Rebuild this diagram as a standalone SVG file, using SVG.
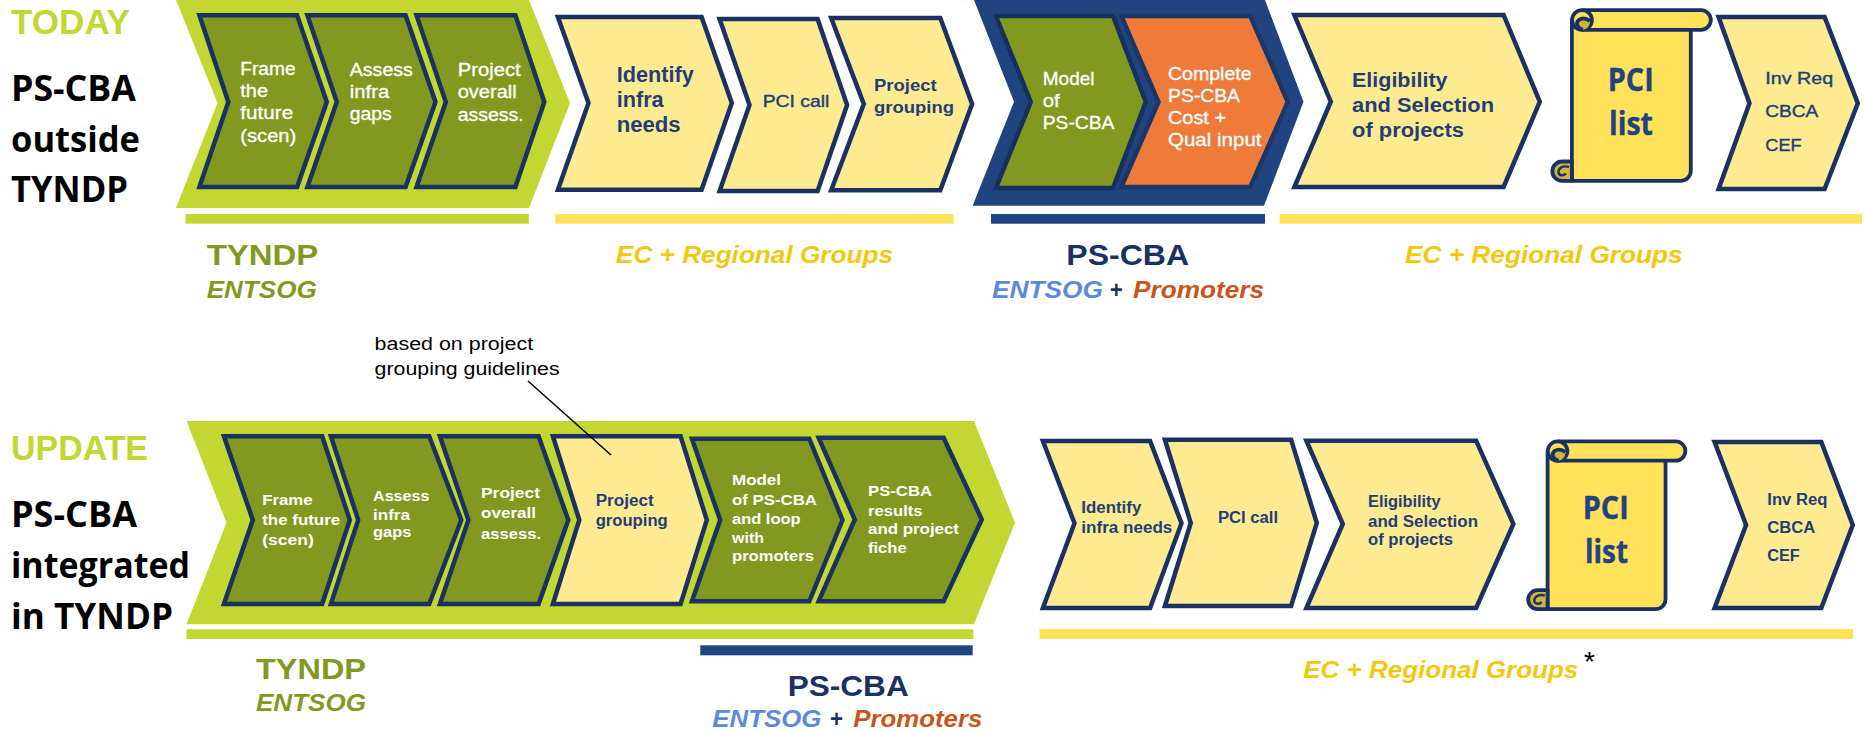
<svg xmlns="http://www.w3.org/2000/svg" xmlns:xlink="http://www.w3.org/1999/xlink" width="1864" height="732" viewBox="0 0 1864 732">
<style>
text{font-family:"Liberation Sans",Arial,sans-serif}
.g{fill:#83981f;stroke:#1a3263;stroke-width:4.5;stroke-miterlimit:10}
.y{fill:#feea91;stroke:#1a3263;stroke-width:4.5;stroke-miterlimit:10}
.o{fill:#ee7b3a;stroke:#1b3768;stroke-width:4.5;stroke-miterlimit:10}
.w{fill:#fff;font-size:17.5px;stroke:#fff;stroke-width:.3}
.ws{fill:#fff;font-size:15.5px;font-weight:bold}
.b{fill:#1f3f78;font-weight:bold;font-size:16px}
.h{font-family:"Open Sans","Noto Sans",sans-serif;font-weight:bold;font-size:36px;fill:#000}
.st{fill:#c2d732;font-weight:bold;font-size:35px}
.lime{fill:#c2d732}.gold{fill:#ffe15a}.navy{fill:#1f4480}
.ty{fill:#83981f;font-weight:bold;font-size:30px}
.en{font-weight:bold;font-style:italic;font-size:23px}
.ec{fill:#f2c80f;font-weight:bold;font-style:italic;font-size:24px}
.ps{fill:#1a3263;font-weight:bold;font-size:30px}
.pl{font-family:"Open Sans","Noto Sans",sans-serif;font-weight:bold;font-size:33px;fill:#1f4480;stroke:#1f4480;stroke-width:.4}
</style>
<defs>
<g id="scroll" stroke="#1a3263" stroke-width="3.8" stroke-linejoin="round" fill="none">
<path d="M1.9 12V172.8H110.8a10 10 0 0 0 10-10V21z" fill="#ffe15a"/>
<path d="M13 2.2H131a9.8 9.8 0 0 1 0 19.6H13z" fill="#ffe15a"/>
<circle cx="12" cy="12" r="9.9" fill="#ffe15a"/>
<path d="M20 13C15 9 8 10 7 15C7 19 10 21 13 21.8C17 21 20 18 20 13z" fill="#d1b43e" stroke="none"/>
<path d="M20 13C15 9 8 10 7 15C7 19 10 21 13 21.8"/>
<path d="M1.9 153.5H-8A9.6 9.6 0 0 0-8 172.8H1.9z" fill="#d1b43e"/>
<path d="M-1 159C-7 157-12 160-11.500 165C-10.500 168-6 168-4 165.500" stroke-width="2.400"/>
</g>
</defs>

<g id="labels-left">
<text x="11" y="34" class="st" textLength="119" lengthAdjust="spacingAndGlyphs">TODAY</text>
<text x="11" y="101" class="h" textLength="125" lengthAdjust="spacingAndGlyphs">PS-CBA</text>
<text x="11" y="152" class="h" textLength="129" lengthAdjust="spacingAndGlyphs">outside</text>
<text x="11" y="202" class="h" textLength="117" lengthAdjust="spacingAndGlyphs">TYNDP</text>
<text x="11" y="460" class="st" textLength="137" lengthAdjust="spacingAndGlyphs">UPDATE</text>
<text x="11" y="527" class="h" textLength="126" lengthAdjust="spacingAndGlyphs">PS-CBA</text>
<text x="11" y="578" class="h" textLength="179" lengthAdjust="spacingAndGlyphs">integrated</text>
<text x="11" y="629" class="h" textLength="162" lengthAdjust="spacingAndGlyphs">in TYNDP</text>
</g>

<g id="today-band">
<polygon class="lime" points="176,0 529,0 570,103 529,208 176,208 217.500,103"/>
<rect class="lime" x="185.500" y="214" width="343.300" height="9.700"/>
</g>
<g id="t-frame"><polygon class="g" points="199.400,15.300 297.100,15.300 326.800,102 297.100,187 199.400,187 228.300,102"/>
<text class="w" x="240.300" y="75" textLength="55.300" lengthAdjust="spacingAndGlyphs">Frame</text>
<text class="w" x="240.300" y="97" textLength="27.700" lengthAdjust="spacingAndGlyphs">the</text>
<text class="w" x="240.300" y="119" textLength="53" lengthAdjust="spacingAndGlyphs">future</text>
<text class="w" x="240.300" y="142" textLength="56" lengthAdjust="spacingAndGlyphs">(scen)</text></g>
<g id="t-assess"><polygon class="g" points="307.400,15.300 405.600,15.300 435.500,102 405.600,187 307.400,187 336.800,102"/>
<text class="w" x="349.800" y="76" textLength="63" lengthAdjust="spacingAndGlyphs">Assess</text>
<text class="w" x="349.800" y="98.300" textLength="39.500" lengthAdjust="spacingAndGlyphs">infra</text>
<text class="w" x="349.800" y="119.500" textLength="42" lengthAdjust="spacingAndGlyphs">gaps</text></g>
<g id="t-project"><polygon class="g" points="416.500,15.300 515.400,15.300 544.300,102 515.400,187 416.500,187 445.800,102"/>
<text class="w" x="457.700" y="76" textLength="63" lengthAdjust="spacingAndGlyphs">Project</text>
<text class="w" x="457.700" y="98.300" textLength="59" lengthAdjust="spacingAndGlyphs">overall</text>
<text class="w" x="457.700" y="120.700" textLength="66" lengthAdjust="spacingAndGlyphs">assess.</text></g>
<g id="t-tyndp-label">
<text class="ty" x="206.700" y="265" textLength="111.600" lengthAdjust="spacingAndGlyphs">TYNDP</text>
<text class="en" style="fill:#83981f" x="206.700" y="298" textLength="110" lengthAdjust="spacingAndGlyphs">ENTSOG</text></g>

<g id="t-identify"><polygon class="y" points="557.900,17 701.600,17 731.800,103 701.600,189.700 557.900,189.700 588.500,103"/>
<text class="b" style="font-size:22px" x="616.700" y="82" textLength="77" lengthAdjust="spacingAndGlyphs">Identify</text>
<text class="b" style="font-size:22px" x="616.700" y="107" textLength="47" lengthAdjust="spacingAndGlyphs">infra</text>
<text class="b" style="font-size:22px" x="616.700" y="132" textLength="64" lengthAdjust="spacingAndGlyphs">needs</text></g>
<g id="t-pci"><polygon class="y" points="719.600,19 817.600,19 847.100,105 817.600,191 719.600,191 749.500,105"/>
<text class="b" style="font-size:17px;font-weight:normal;stroke:#1f3f78;stroke-width:.4" x="762.700" y="107" textLength="66.700" lengthAdjust="spacingAndGlyphs">PCI call</text></g>
<g id="t-grouping"><polygon class="y" points="831.200,18 940.300,18 972.100,104 940.300,190.300 831.200,190.300 863.800,104"/>
<text class="b" style="font-size:17px" x="874" y="90.700" textLength="62.700" lengthAdjust="spacingAndGlyphs">Project</text>
<text class="b" style="font-size:17px" x="874" y="112.500" textLength="80" lengthAdjust="spacingAndGlyphs">grouping</text></g>
<g id="t-ec-1"><rect class="gold" x="555.300" y="214" width="398.400" height="9.700"/>
<text class="ec" x="616" y="263.300" textLength="277" lengthAdjust="spacingAndGlyphs">EC + Regional Groups</text></g>

<g id="t-pscba-band">
<polygon class="navy" points="974,0 1265,0 1303.500,101.700 1264,205.700 972.600,205.700 1014,101.700"/>
<rect class="navy" x="991" y="214" width="274" height="9.700"/>
</g>
<g id="t-model"><polygon class="g" style="stroke:#16305f" points="995.900,16 1113,16 1145.800,102 1113,188 995.900,188 1030.800,102"/>
<text class="w" x="1042.800" y="85" textLength="51.700" lengthAdjust="spacingAndGlyphs">Model</text>
<text class="w" x="1042.800" y="107.300" textLength="17" lengthAdjust="spacingAndGlyphs">of</text>
<text class="w" x="1042.800" y="129.300" textLength="71.600" lengthAdjust="spacingAndGlyphs">PS-CBA</text></g>
<g id="t-complete"><polygon class="o" points="1121.300,16 1250.300,16 1287.800,102 1250.300,187 1121.300,187 1158.500,102"/>
<text class="w" x="1168" y="80" textLength="83.600" lengthAdjust="spacingAndGlyphs">Complete</text>
<text class="w" x="1168" y="102.300" textLength="72" lengthAdjust="spacingAndGlyphs">PS-CBA</text>
<text class="w" x="1168" y="124.300" textLength="58" lengthAdjust="spacingAndGlyphs">Cost +</text>
<text class="w" x="1168" y="146" textLength="93.500" lengthAdjust="spacingAndGlyphs">Qual input</text></g>
<g id="t-pscba-label">
<text class="ps" x="1066.300" y="265" textLength="122.800" lengthAdjust="spacingAndGlyphs">PS-CBA</text>
<text class="en" style="fill:#5a8ad8" x="992" y="297.700" textLength="110.900" lengthAdjust="spacingAndGlyphs">ENTSOG</text>
<text class="en" style="fill:#1a3263;font-style:normal" x="1109.800" y="297.700" textLength="13" lengthAdjust="spacingAndGlyphs">+</text>
<text class="en" style="fill:#c8551a" x="1133" y="297.700" textLength="131" lengthAdjust="spacingAndGlyphs">Promoters</text></g>

<g id="t-eligibility"><polygon class="y" points="1294.400,15 1503.600,15 1539.800,101.700 1503.600,187 1294.400,187 1330.800,101.700"/>
<text class="b" style="font-size:20px" x="1352" y="87" textLength="95.500" lengthAdjust="spacingAndGlyphs">Eligibility</text>
<text class="b" style="font-size:20px" x="1352" y="112" textLength="142" lengthAdjust="spacingAndGlyphs">and Selection</text>
<text class="b" style="font-size:20px" x="1352" y="137" textLength="112" lengthAdjust="spacingAndGlyphs">of projects</text></g>
<g id="t-pci-list"><use xlink:href="#scroll" href="#scroll" transform="translate(1570 8)"/>
<text class="pl" x="1607.700" y="90.700" textLength="46" lengthAdjust="spacingAndGlyphs">PCI</text>
<text class="pl" x="1609" y="135" textLength="44" lengthAdjust="spacingAndGlyphs">list</text></g>
<g id="t-inv"><polygon class="y" points="1718.600,17 1824.600,17 1857.800,103.300 1824.600,189 1718.600,189 1749.500,103.300"/>
<text class="b" style="font-size:17px;font-weight:normal;stroke:#1f3f78;stroke-width:.4" x="1765.300" y="84" textLength="68" lengthAdjust="spacingAndGlyphs">Inv Req</text>
<text class="b" style="font-size:17px;font-weight:normal;stroke:#1f3f78;stroke-width:.4" x="1765.300" y="117.300" textLength="53" lengthAdjust="spacingAndGlyphs">CBCA</text>
<text class="b" style="font-size:17px;font-weight:normal;stroke:#1f3f78;stroke-width:.4" x="1765.300" y="150.700" textLength="36.300" lengthAdjust="spacingAndGlyphs">CEF</text></g>
<g id="t-ec-2"><rect class="gold" x="1279.600" y="214" width="582.400" height="9.700"/>
<text class="ec" x="1405" y="263.300" textLength="277.700" lengthAdjust="spacingAndGlyphs">EC + Regional Groups</text></g>

<g id="note"><text x="374.600" y="350" style="font-size:18px" textLength="158.500" lengthAdjust="spacingAndGlyphs">based on project</text>
<text x="374.600" y="375" style="font-size:18px" textLength="185" lengthAdjust="spacingAndGlyphs">grouping guidelines</text></g>

<g id="update-band">
<polygon class="lime" points="186.500,421 973.900,421 1015,522.700 973.900,624.300 186.500,624.300 226.500,522.700"/>
<rect class="lime" x="186.500" y="629.300" width="786.800" height="9.700"/>
<rect class="navy" x="700.300" y="645.300" width="272.400" height="10"/>
</g>
<g id="u-frame"><polygon class="g" points="223.900,436.300 322.200,436.300 349.800,520 322.200,604 223.900,604 252.800,520"/>
<text class="ws" x="262.200" y="505" textLength="50.500" lengthAdjust="spacingAndGlyphs">Frame</text>
<text class="ws" x="262.200" y="525" textLength="78" lengthAdjust="spacingAndGlyphs">the future</text>
<text class="ws" x="262.200" y="545" textLength="51.600" lengthAdjust="spacingAndGlyphs">(scen)</text></g>
<g id="u-assess"><polygon class="g" points="330.900,436.300 429.200,436.300 461.300,520 429.200,604 330.900,604 358.200,520"/>
<text class="ws" x="373" y="500.700" textLength="56.500" lengthAdjust="spacingAndGlyphs">Assess</text>
<text class="ws" x="373" y="520" textLength="37" lengthAdjust="spacingAndGlyphs">infra</text>
<text class="ws" x="373" y="537" textLength="38.400" lengthAdjust="spacingAndGlyphs">gaps</text></g>
<g id="u-project"><polygon class="g" points="439.900,436.300 538.600,436.300 568.300,520 538.600,604 439.900,604 468.400,520"/>
<text class="ws" x="481" y="498" textLength="59" lengthAdjust="spacingAndGlyphs">Project</text>
<text class="ws" x="481" y="518" textLength="55" lengthAdjust="spacingAndGlyphs">overall</text>
<text class="ws" x="481" y="539" textLength="60" lengthAdjust="spacingAndGlyphs">assess.</text></g>
<g id="u-grouping"><polygon class="y" points="552.900,436.300 680.600,436.300 706.800,520 680.600,604 552.900,604 579.300,520"/>
<text class="b" x="595.700" y="506" textLength="58" lengthAdjust="spacingAndGlyphs">Project</text>
<text class="b" x="595.700" y="526" textLength="72" lengthAdjust="spacingAndGlyphs">grouping</text></g>
<g id="u-model"><polygon class="g" points="691.900,438.700 809.300,438.700 842.500,520 809.300,601.300 691.900,601.300 720.200,520"/>
<text class="ws" x="732" y="485" textLength="49" lengthAdjust="spacingAndGlyphs">Model</text>
<text class="ws" x="732" y="505" textLength="85" lengthAdjust="spacingAndGlyphs">of PS-CBA</text>
<text class="ws" x="732" y="524" textLength="68.600" lengthAdjust="spacingAndGlyphs">and loop</text>
<text class="ws" x="732" y="543" textLength="32" lengthAdjust="spacingAndGlyphs">with</text>
<text class="ws" x="732" y="561" textLength="82" lengthAdjust="spacingAndGlyphs">promoters</text></g>
<g id="u-results"><polygon class="g" points="818.600,437.700 943.600,437.700 981.800,519.500 943.600,601.300 818.600,601.300 854.800,519.500"/>
<text class="ws" x="868" y="496" textLength="64" lengthAdjust="spacingAndGlyphs">PS-CBA</text>
<text class="ws" x="868" y="515.700" textLength="54.600" lengthAdjust="spacingAndGlyphs">results</text>
<text class="ws" x="868" y="534" textLength="91" lengthAdjust="spacingAndGlyphs">and project</text>
<text class="ws" x="868" y="553" textLength="38.600" lengthAdjust="spacingAndGlyphs">fiche</text></g>
<g id="u-tyndp-label">
<text class="ty" x="256" y="679" textLength="110" lengthAdjust="spacingAndGlyphs">TYNDP</text>
<text class="en" style="fill:#83981f" x="256" y="711" textLength="110" lengthAdjust="spacingAndGlyphs">ENTSOG</text></g>
<g id="u-pscba-label">
<text class="ps" x="787.700" y="696" textLength="121" lengthAdjust="spacingAndGlyphs">PS-CBA</text>
<text class="en" style="fill:#5a8ad8" x="712.300" y="726.700" textLength="109" lengthAdjust="spacingAndGlyphs">ENTSOG</text>
<text class="en" style="fill:#1a3263;font-style:normal" x="830" y="726.700" textLength="13" lengthAdjust="spacingAndGlyphs">+</text>
<text class="en" style="fill:#c8551a" x="853.300" y="726.700" textLength="129" lengthAdjust="spacingAndGlyphs">Promoters</text></g>

<g id="u-identify"><polygon class="y" points="1042.900,441 1150.100,441 1181.500,523.300 1150.100,608 1042.900,608 1074.500,523.300"/>
<text class="b" x="1081.300" y="513" textLength="60" lengthAdjust="spacingAndGlyphs">Identify</text>
<text class="b" x="1081.300" y="533" textLength="91" lengthAdjust="spacingAndGlyphs">infra needs</text></g>
<g id="u-pci"><polygon class="y" points="1164.900,439.700 1291.100,439.700 1316.800,523 1291.100,606 1164.900,606 1190.800,523"/>
<text class="b" x="1218" y="523" textLength="60" lengthAdjust="spacingAndGlyphs">PCI call</text></g>
<g id="u-eligibility"><polygon class="y" points="1306.400,440.700 1476.100,440.700 1513.400,524 1476.100,608 1306.400,608 1342.800,524"/>
<text class="b" x="1368" y="507" textLength="72.500" lengthAdjust="spacingAndGlyphs">Eligibility</text>
<text class="b" x="1368" y="526.700" textLength="110" lengthAdjust="spacingAndGlyphs">and Selection</text>
<text class="b" x="1368" y="545" textLength="85" lengthAdjust="spacingAndGlyphs">of projects</text></g>
<g id="u-pci-list"><use xlink:href="#scroll" href="#scroll" transform="translate(1545.700 439.300) scale(.992 .983)"/>
<text class="pl" x="1582.700" y="519.300" textLength="46" lengthAdjust="spacingAndGlyphs">PCI</text>
<text class="pl" x="1585" y="563.300" textLength="43" lengthAdjust="spacingAndGlyphs">list</text></g>
<g id="u-inv"><polygon class="y" points="1714.600,442 1821.300,442 1852.800,525 1821.300,608 1714.600,608 1746.100,525"/>
<text class="b" x="1767.300" y="505" textLength="60" lengthAdjust="spacingAndGlyphs">Inv Req</text>
<text class="b" x="1767.300" y="533.300" textLength="48" lengthAdjust="spacingAndGlyphs">CBCA</text>
<text class="b" x="1767.300" y="561.300" textLength="32.500" lengthAdjust="spacingAndGlyphs">CEF</text></g>
<g id="u-ec"><rect class="gold" x="1039.500" y="629" width="813.500" height="10"/>
<text class="ec" x="1303.300" y="678.300" textLength="275" lengthAdjust="spacingAndGlyphs">EC + Regional Groups</text>
<text x="1584" y="671" style="font-size:28px">*</text></g>

<g id="connectors">
<line x1="528" y1="381" x2="611" y2="455" stroke="#000" stroke-width="1.500"/>
</g>
</svg>
